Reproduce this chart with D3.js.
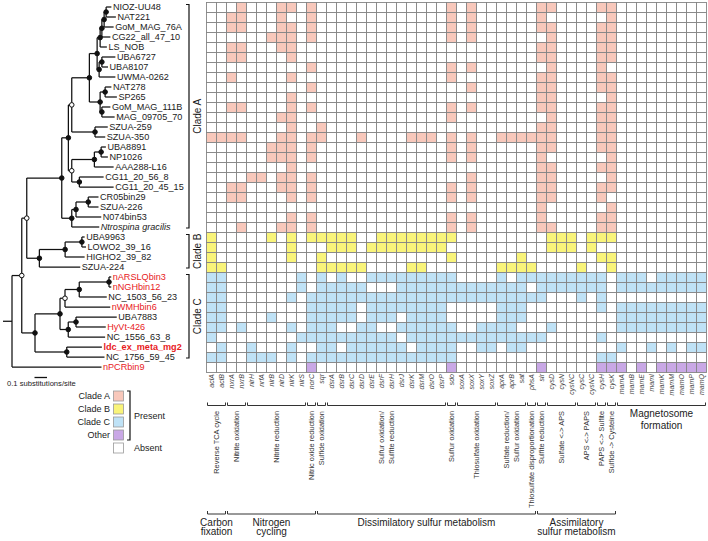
<!DOCTYPE html>
<html><head><meta charset="utf-8">
<script src="https://cdn.jsdelivr.net/npm/d3@7"></script>
<style>
body{margin:0;background:#fff;}
svg{display:block;font-family:"Liberation Sans",Arial,sans-serif;}
</style></head><body>
<svg id="chart" width="708" height="541"></svg>
<script>
// ---------------- DATA ----------------
const taxa = ["NIOZ-UU48","NAT221","GoM_MAG_76A","CG22_all_47_10","LS_NOB","UBA6727","UBA8107","UWMA-0262","NAT278","SP265","GoM_MAG_111B","MAG_09705_70","SZUA-259","SZUA-350","UBA8891","NP1026","AAA288-L16","CG11_20_56_8","CG11_20_45_15","CR05bin29","SZUA-226","N074bin53","Ntrospina gracilis","UBA9963","LOWO2_39_16","HIGHO2_39_82","SZUA-224","nARSLQbin3","nNGHbin12","NC_1503_56_23","nWMHbin6","UBA7883","HyVt-426","NC_1556_63_8","ldc_ex_meta_mg2","NC_1756_59_45","nPCRbin9"];
const taxonClade = "AAAAAAAAAAAAAAAAAAAAAAABBBBCCCCCCCCCO";
const cladeNames = {A:"Clade A", B:"Clade B", C:"Clade C", O:"Other"};
const redTaxa = ["nARSLQbin3","nNGHbin12","nWMHbin6","HyVt-426","ldc_ex_meta_mg2","nPCRbin9"];
const boldTaxa = ["ldc_ex_meta_mg2"];
const italicTaxa = ["Ntrospina gracilis"];

const genes = ["aclA","aclB","nxrA","nxrB","nirH","nrfA","nirB","nirD","nirK","nirS","norC","sqr","dsrA","dsrB","dsrC","dsrD","dsrE","dsrF","dsrH","dsrJ","dsrK","dsrM","dsrO","dsrP","sdo","soxA","soxX","soxY","soxZ","aprA","aprB","sat","phsA","sir","cysD","cysN","cysNC","cysC","cysNC","cysH","cysK","mamA","mamB","mamE","mamI","mamK","mamM","mamO","mamP","mamQ"];

// present genes (column indices) for each taxon, in taxa order
const presentGenes = [
 [3,7,8,10,24,26,33,34,39,40],
 [2,3,7,10,24,26,33,40],
 [2,3,7,8,10,24,26,33,34,39,40],
 [6,7,8,10,24,26,34,39,40],
 [2,3,7,8,33,34,39,40],
 [2,3,8,33,34,39,40],
 [10,24,26,34,39],
 [2,8,24,33,34,39,40],
 [10,26,33,34,39,40],
 [8,33,34,40],
 [2,3,8,10,24,26,33,34,39,40],
 [7,8,24,34,39,40],
 [8,11,33,34,39,40],
 [0,1,2,3,7,8,10,11,15,20,21,22,24,26,29,30,31,32,33,34,39,40],
 [6,7,8,10,24,26,33,34,39,40],
 [6,7,8,10,24,26,33,40],
 [8,33,34,39,40],
 [4,5,7,8,10,26,33,34,40],
 [2,3,7,8,10,24,26,33,34,39,40],
 [2,3,8,10,24,26,33,34,39],
 [33,40],
 [8,10,24,26,33,39,40],
 [3,7,8,10,24,26,33,34,39,40],
 [0,6,8,10,11,12,13,14,17,18,19,20,21,22,23,24,34,35,36,38,39,40],
 [0,8,12,13,14,16,17,18,19,20,21,22,23,34,35,36,38],
 [0,8,11,24,31,39,40],
 [0,1,11,12,13,14,15,20,21,29,30,31,32,37,40],
 [0,1,9,11,13,16,17,18,19,20,21,22,23,24,29,31,32,33,34,35,36,37,38,39,41,42,43,45,46,47,48,49],
 [0,1,9,11,12,13,14,15,19,20,21,22,23,24,25,26,27,28,29,30,31,33,34,35,36,37,38,39,41,42,43,44,45,46,47,48,49],
 [0,1,8,10,11,12,13,14,15,16,17,18,19,20,21,22,23,24,25,26,27,28,29,30,31,32,33,37,39],
 [0,1,10,11,12,13,14,16,17,18,19,20,21,22,23,29,30,31,39,41,42,43,44,45,46,47,48,49],
 [0,1,6,10,11,12,13,14,16,17,18,20,21,22,23,29,30,31,41,42,43,44,45,46,47,48,49],
 [0,1,3,8,10,11,12,15,16,19,20,21,22,23,24,27,28,29,30,34,41,42,43,44,45,46,47,48,49],
 [0,9,10,11,12,13,14,15,16,17,18,20,21,22,23,24,25,26,27,28,29,30,31,32,33,39],
 [1,4,8,11,12,14,15,16,17,18,19,21,22,23,24,27,28,30,31,41,44,46,48,49],
 [0,1,4,5,6,8,10,11,12,13,14,15,16,17,18,19,20,21,22,23,24,39,40],
 [10,24,33,39,40,41,43,45,46,47,48,49]
];

const pathways = [
 {lines:["Reverse TCA cycle"], span:[0,1]},
 {lines:["Nitrite oxidation"], span:[2,3]},
 {lines:["Nitrite reduction"], span:[4,9]},
 {lines:["Nitric oxide reduction"], span:[10,10]},
 {lines:["Sulfide oxidation"], span:[11,11]},
 {lines:["Sulfur oxidation/","Sulfite reduction"], span:[12,23]},
 {lines:["Sulfur oxidation"], span:[24,24]},
 {lines:["Thiosulfate oxidation"], span:[25,28]},
 {lines:["Sulfate reduction/","Sulfur oxidation"], span:[29,31]},
 {lines:["Thiosulfate disproportionation"], span:[32,32]},
 {lines:["Sulfite reduction"], span:[33,33]},
 {lines:["Sulfate <-> APS"], span:[34,36]},
 {lines:["APS <-> PAPS"], span:[37,38]},
 {lines:["PAPS <-> Sulfite"], span:[39,39]},
 {lines:["Sulfide -> Cysteine"], span:[40,40]},
 {lines:["Magnetosome","formation"], span:[41,49], flat:true}
];
const metabolisms = [
 {lines:["Carbon","fixation"], span:[0,1]},
 {lines:["Nitrogen","cycling"], span:[2,10]},
 {lines:["Dissimilatory sulfur metabolism"], span:[11,32]},
 {lines:["Assimilatory","sulfur metabolism"], span:[33,40]}
];
const legendItems = ["A","B","C","O"];
const scaleBarValue = 0.1;
const scaleBarLabel = "0.1 substitutions/site";

// phylogeny: branch lengths in substitutions/site; mark f = filled node, o = open node
function L(name, len){ return {name, len}; }
function N(len, mark, ...children){ return {len, mark, children}; }
const tree = N(0.072, "",
  N(0.078, "o",
    N(0.040, "o",
      N(0.280, "f",
        N(0.053, "f",
          N(0.027, "o",
            N(0.141, "f",
              N(0.062, "f",
                N(0.024, "f",
                  N(0.014, "f",
                    N(0.018, "f",
                      N(0.016, "f", L("NIOZ-UU48",0.042), L("NAT221",0.078)),
                      L("GoM_MAG_76A",0.076)),
                    L("CG22_all_47_10",0.068)),
                  L("LS_NOB",0.054)),
                N(0.016, "f",
                  N(0.022, "f", L("UBA6727",0.108), L("UBA8107",0.049)),
                  L("UWMA-0262",0.130))),
              N(0.086, "f",
                N(0.040, "f", L("NAT278",0.050), L("SP265",0.094)),
                N(0.014, "f", L("GoM_MAG_111B",0.068), L("MAG_09705_70",0.102)))),
            N(0.186, "f", L("SZUA-259",0.102), L("SZUA-350",0.082))),
          N(0.027, "o",
            N(0.181, "f",
              N(0.054, "f", L("UBA8891",0.038), L("NP1026",0.054)),
              L("AAA288-L16",0.154)),
            N(0.061, "f", L("CG11_20_56_8",0.194), L("CG11_20_45_15",0.274)))),
        N(0.080, "f",
          N(0.034, "f",
            N(0.098, "f", L("CR05bin29",0.082), L("SZUA-226",0.082)),
            L("N074bin53",0.202)),
          L("Ntrospina gracilis",0.220))),
      N(0.101, "f",
        N(0.206, "f",
          N(0.134, "f", L("UBA9963",0.022), L("LOWO2_39_16",0.033)),
          L("HIGHO2_39_82",0.156)),
        L("SZUA-224",0.327))),
    N(0.106, "f",
      N(0.200, "f",
        N(0.040, "o",
          N(0.114, "f",
            N(0.238, "f", L("nARSLQbin3",0.018), L("nNGHbin12",0.018)),
            L("NC_1503_56_23",0.220)),
          L("nWMHbin6",0.362)),
        N(0.066, "f",
          N(0.062, "f", L("UBA7883",0.326), L("HyVt-426",0.238)),
          L("NC_1556_63_8",0.295))),
      N(0.254, "f", L("ldc_ex_meta_mg2",0.281), L("NC_1756_59_45",0.302)))),
  L("nPCRbin9",0.716));

// ---------------- DRAW ----------------
const svg = d3.select("#chart");
const cladeColor = d3.scaleOrdinal().domain(["A","B","C","O"]).range(["#f8c8bb","#f9f47a","#bfe2f6","#c9a8e6"]);

const y = d3.scaleBand().domain(taxa).range([2, 372]);
const x = d3.scaleBand().domain(d3.range(genes.length)).range([206, 706]);
const xTree = d3.scaleLinear().domain([0, 1]).range([12, 137]);

// ---- heatmap
const cells = [];
taxa.forEach((t, r) => {
  const set = new Set(presentGenes[r]);
  genes.forEach((g, c) => cells.push({r, c, t, on: set.has(c), clade: taxonClade[r]}));
});
svg.append("g").selectAll("rect").data(cells).join("rect")
  .attr("x", d => x(d.c) + 0.5).attr("y", d => y(d.t) + 0.5)
  .attr("width", x.bandwidth()).attr("height", y.bandwidth())
  .attr("fill", d => d.on ? cladeColor(d.clade) : "#fff")
  .attr("stroke", "#858585").attr("stroke-width", 0.9);

// gene labels
svg.append("g").selectAll("text").data(genes).join("text")
  .attr("transform", (g, i) => `translate(${x(i) + x.bandwidth()/2 + 0.5},374) rotate(-90)`)
  .attr("text-anchor", "end").attr("dy", "0.35em")
  .attr("font-size", 7).attr("font-style", "italic").attr("fill", "#444")
  .text(g => g);

// pathway brackets
function bracket(g, c0, c1, yy, tick) {
  const x0 = x(c0) + 1.5, x1 = x(c1) + x.bandwidth() - 0.5;
  g.append("path").attr("d", `M${x0},${yy - tick}V${yy}H${x1}V${yy - tick}`)
    .attr("fill", "none").attr("stroke", "#333").attr("stroke-width", 1);
  return (x0 + x1) / 2;
}
const pg = svg.append("g");
pathways.forEach(p => {
  const cx = bracket(pg, p.span[0], p.span[1], 405.5, 3);
  if (p.flat) {
    p.lines.forEach((ln, i) => pg.append("text").attr("x", cx).attr("y", 417 + i * 11.5)
      .attr("text-anchor", "middle").attr("font-size", 10).attr("fill", "#222").text(ln));
  } else {
    const n = p.lines.length;
    p.lines.forEach((ln, i) => pg.append("text")
      .attr("transform", `translate(${cx + (i - (n - 1) / 2) * 9.5},411) rotate(-90)`)
      .attr("text-anchor", "end").attr("dy", "0.35em")
      .attr("font-size", 7.4).attr("fill", "#333").text(ln));
  }
});
const mg = svg.append("g");
metabolisms.forEach(m => {
  const cx = bracket(mg, m.span[0], m.span[1], 514, 3);
  m.lines.forEach((ln, i) => mg.append("text").attr("x", cx).attr("y", 525.5 + i * 9.5)
    .attr("text-anchor", "middle").attr("font-size", 10).attr("fill", "#222").text(ln));
});

// ---- tree
const root = d3.hierarchy(tree, d => d.children);
root.each(d => { d.len = d.parent ? d.parent.len + d.data.len : 0; d.px = xTree(d.len); });
root.eachAfter(d => {
  if (d.children) d.py = (d.children[0].py + d.children[d.children.length - 1].py) / 2;
  else d.py = y(d.data.name) + y.bandwidth() / 2;
});
const tg = svg.append("g").attr("fill", "none").attr("stroke", "#111").attr("stroke-width", 1.25);
tg.append("path").attr("d", `M${xTree(-root.data.len)},${root.py}H${root.px}`);
root.descendants().forEach(d => {
  if (d.parent) tg.append("path").attr("d", `M${d.parent.px},${d.py}H${d.px}`);
  if (d.children) tg.append("path")
    .attr("d", `M${d.px},${d.children[0].py}V${d.children[d.children.length - 1].py}`);
});
svg.append("g").selectAll("circle")
  .data(root.descendants().filter(d => d.children && d.data.mark))
  .join("circle").attr("cx", d => d.px).attr("cy", d => d.py).attr("r", 2.3)
  .attr("fill", d => d.data.mark === "f" ? "#111" : "#fff")
  .attr("stroke", "#111").attr("stroke-width", 1);
svg.append("g").selectAll("text").data(root.leaves()).join("text")
  .attr("x", d => d.px + 1.5).attr("y", d => d.py).attr("dy", "0.35em")
  .attr("font-size", 9.1)
  .attr("fill", d => redTaxa.includes(d.data.name) ? "#e8201c" : "#1a1a1a")
  .attr("font-weight", d => boldTaxa.includes(d.data.name) ? "bold" : "normal")
  .attr("font-style", d => italicTaxa.includes(d.data.name) ? "italic" : "normal")
  .text(d => d.data.name);

// clade brackets
const cg = svg.append("g");
["A","B","C"].forEach(k => {
  const rows = taxa.filter((t, i) => taxonClade[i] === k);
  const y0 = y(rows[0]) + 2.5, y1 = y(rows[rows.length - 1]) + y.bandwidth() - 4;
  cg.append("path").attr("d", `M186,${y0}H189V${y1}H186`).attr("fill", "none")
    .attr("stroke", "#111").attr("stroke-width", 1.2);
  cg.append("text").attr("transform", `translate(197,${(y0 + y1) / 2}) rotate(-90)`)
    .attr("text-anchor", "middle").attr("dy", "0.35em").attr("font-size", 10)
    .attr("fill", "#1a1a1a").text(cladeNames[k]);
});

// scale bar
const sb = svg.append("g");
sb.append("path").attr("d", `M34.5,377.5H${34.5 + xTree(scaleBarValue) - xTree(0)}`)
  .attr("stroke", "#111").attr("stroke-width", 1.3);
sb.append("text").attr("x", 7).attr("y", 386).attr("font-size", 7.6).attr("fill", "#222").text(scaleBarLabel);

// legend
const lg = svg.append("g");
const ly = d3.scalePoint().domain([...legendItems, "absent"]).range([396, 448]);
legendItems.forEach(k => {
  lg.append("rect").attr("x", 113.5).attr("y", ly(k) - 5).attr("width", 10).attr("height", 10)
    .attr("fill", cladeColor(k)).attr("stroke", "#999").attr("stroke-width", 0.8);
  lg.append("text").attr("x", 110).attr("y", ly(k)).attr("dy", "0.35em").attr("text-anchor", "end")
    .attr("font-size", 9).attr("fill", "#222").text(cladeNames[k]);
});
lg.append("rect").attr("x", 113.5).attr("y", ly("absent") - 5).attr("width", 10).attr("height", 10)
  .attr("fill", "#fff").attr("stroke", "#999").attr("stroke-width", 0.8);
lg.append("path").attr("d", `M127,${ly("A") - 5}H130V${ly("O") + 5}H127`).attr("fill", "none")
  .attr("stroke", "#111").attr("stroke-width", 1.2);
lg.append("text").attr("x", 134).attr("y", (ly("A") + ly("O")) / 2).attr("dy", "0.35em")
  .attr("font-size", 9).attr("fill", "#222").text("Present");
lg.append("text").attr("x", 134).attr("y", ly("absent")).attr("dy", "0.35em")
  .attr("font-size", 9).attr("fill", "#222").text("Absent");
</script>
</body></html>
